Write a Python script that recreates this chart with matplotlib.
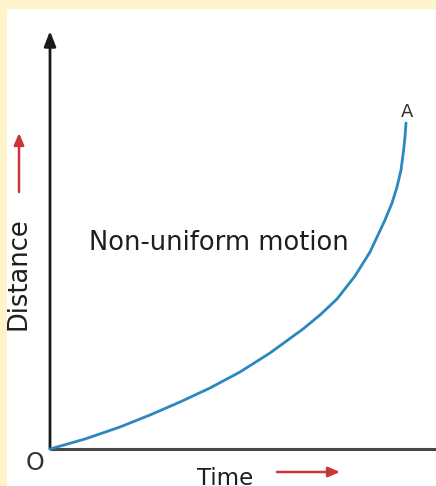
import matplotlib
matplotlib.use('Agg')
import matplotlib.pyplot as plt
from matplotlib.patches import Rectangle

# curve (arbitrary units, origin at O)
time = [0, 35, 70, 100, 130, 160, 190, 220, 253, 270, 287, 305, 320, 335,
        342, 347, 351, 353.5, 355, 356]
distance = [0, 10, 22, 34, 47, 61, 77, 96, 120, 134, 150, 173, 197, 229,
            246, 262, 279, 298, 312, 326]

curve_color = '#2b87bd'
axis_color = '#474747'
red = '#c8363a'
font = ['DejaVu Sans']

fig = plt.figure(figsize=(4.36, 4.86), dpi=100)
fig.patch.set_facecolor('#fdf4cc')
fig.patches.append(Rectangle((7 / 436, 0), 1, 1 - 9 / 486, transform=fig.transFigure,
                             facecolor='white', edgecolor='none', zorder=0))

ax = fig.add_axes([0, 0, 1, 1])
ax.set_zorder(2)
ax.set_xlim(-50, 386)
ax.set_ylim(-37, 449)
ax.axis('off')
ax.patch.set_alpha(0)

# axes lines
ax.plot([0, 386], [0, 0], color=axis_color, lw=2.2, solid_capstyle='butt', clip_on=False)
ax.annotate('', xy=(0, 418), xytext=(0, 0),
            arrowprops=dict(arrowstyle='-|>,head_length=0.9,head_width=0.35',
                            color='#1a1a1a', lw=2.0, shrinkA=0, shrinkB=0))

# the curve
ax.plot(time, distance, color=curve_color, lw=2.0, solid_capstyle='round',
        solid_joinstyle='round', zorder=3)

ax.text(357, 337, 'A', ha='center', va='center', fontsize=13, color='#333333', family=font)
ax.text(-15, -14, 'O', ha='center', va='center', fontsize=17, color='#333333', family=font)
ax.text(169, 206, 'Non-uniform motion', ha='center', va='center', fontsize=18.5,
        color='#1e1e1e', family=font)
ax.text(175, -18, 'Time', ha='center', va='top', fontsize=16.5, color='#1e1e1e', family=font)
ax.text(-31, 175, 'Distance', ha='center', va='center', rotation=90, fontsize=18.5,
        color='#1e1e1e', family=font)

# red direction arrows
ax.annotate('', xy=(290, -23), xytext=(227, -23),
            arrowprops=dict(arrowstyle='-|>,head_length=0.7,head_width=0.3',
                            color=red, lw=1.8, shrinkA=0, shrinkB=0), annotation_clip=False)
ax.annotate('', xy=(-31, 316), xytext=(-31, 257),
            arrowprops=dict(arrowstyle='-|>,head_length=0.7,head_width=0.3',
                            color=red, lw=1.8, shrinkA=0, shrinkB=0), annotation_clip=False)

fig.savefig('out.png', dpi=100, facecolor=fig.get_facecolor())
